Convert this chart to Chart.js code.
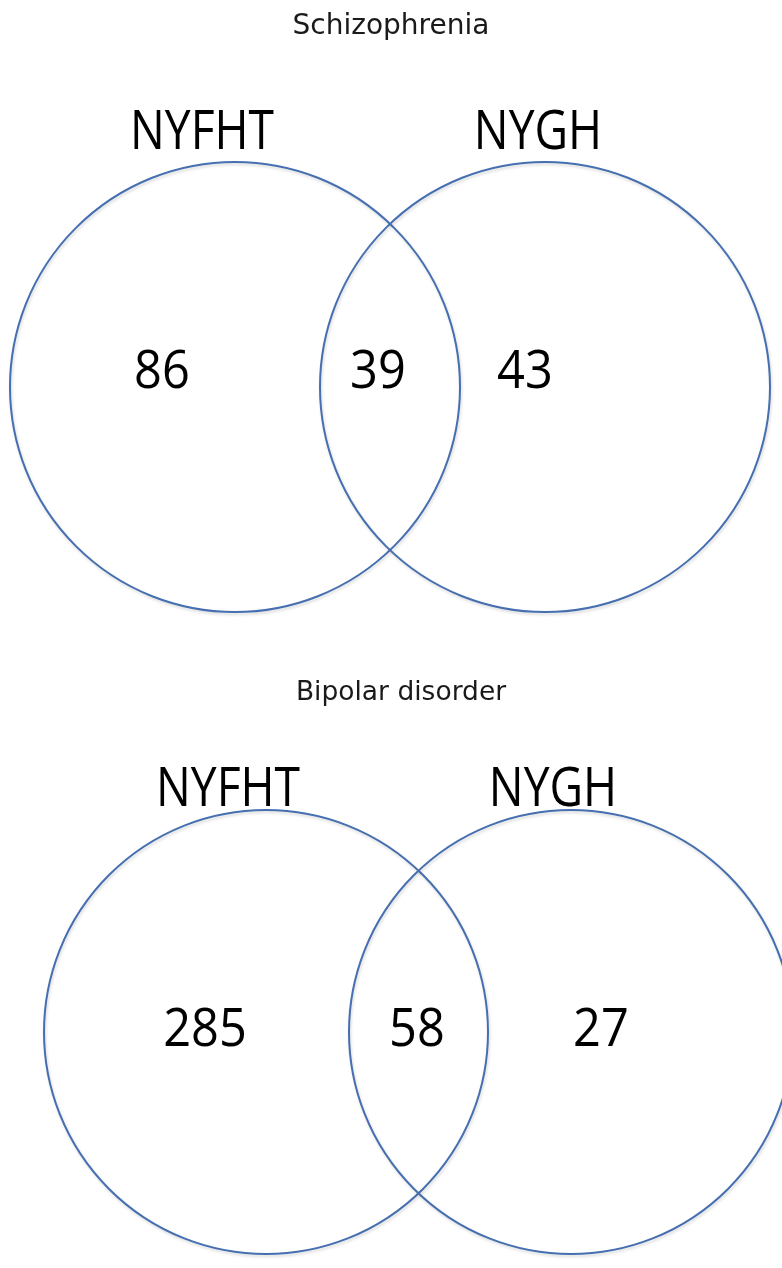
<!DOCTYPE html>
<html>
<head>
<meta charset="utf-8">
<script src="https://cdn.jsdelivr.net/npm/chart.js@4"></script>
<style>
html,body{margin:0;padding:0;background:#fff;}
#wrap{width:782px;height:1268px;}
</style>
</head>
<body>
<div id="wrap"><canvas id="c" width="782" height="1268"></canvas></div>
<script>
// ---- data ----
const panelTitles = ['Schizophrenia', 'Bipolar disorder'];
const setNames = ['NYFHT', 'NYGH'];
const regionNames = ['NYFHT only', 'Both', 'NYGH only'];
const schizophreniaCounts = [86, 39, 43];
const bipolarCounts = [285, 58, 27];

// ---- layout (canvas units) ----
const panels = [
  {counts: schizophreniaCounts, title: panelTitles[0], titleX: 391, titleY: 34, titleSize: 28,
   cy: 387, cxL: 235, cxR: 545, r: 225, labelY: 149, labelX: [202, 538],
   countY: 373, countX: [162, 378, 525]},
  {counts: bipolarCounts, title: panelTitles[1], titleX: 401, titleY: 700, titleSize: 26.5,
   cy: 1032, cxL: 266, cxR: 571, r: 222, labelY: 806, labelX: [228, 553],
   countY: 1031, countX: [205, 417, 601]}
];

const circleColor = '#456fb0';

const datasets = [];
panels.forEach((p, i) => {
  const radiusFn = (ctx) => {
    const xs = ctx.chart.scales.x;
    return Math.abs(xs.getPixelForValue(p.r) - xs.getPixelForValue(0));
  };
  datasets.push({
    type: 'scatter',
    label: p.title + ' circles',
    data: [{x: p.cxL, y: p.cy}, {x: p.cxR, y: p.cy}],
    pointRadius: radiusFn,
    pointHoverRadius: radiusFn,
    backgroundColor: 'rgba(0,0,0,0)',
    borderColor: circleColor,
    borderWidth: 2,
    isCircle: true
  });
  datasets.push({
    type: 'scatter',
    label: p.title + ' counts',
    data: p.countX.map((x, k) => ({x: x, y: p.countY, v: p.counts[k], name: regionNames[k]})),
    pointRadius: 0,
    pointHoverRadius: 0,
    isCount: true
  });
});

const textPlugin = {
  id: 'vennText',
  beforeDatasetDraw(chart, args) {
    const ds = chart.data.datasets[args.index];
    if (ds.isCircle) {
      const ctx = chart.ctx;
      ctx.save();
      ctx.shadowColor = 'rgba(0,0,0,0.16)';
      ctx.shadowBlur = 3;
      ctx.shadowOffsetX = 1;
      ctx.shadowOffsetY = 2;
    }
  },
  afterDatasetDraw(chart, args) {
    const ds = chart.data.datasets[args.index];
    if (ds.isCircle) chart.ctx.restore();
  },
  afterDatasetsDraw(chart) {
    const ctx = chart.ctx;
    const xs = chart.scales.x, ys = chart.scales.y;
    chart.data.datasets.forEach((ds, i) => {
      if (!ds.isCount) return;
      const meta = chart.getDatasetMeta(i);
      meta.data.forEach((el, k) => {
        ctx.save();
        ctx.fillStyle = '#000';
        ctx.font = '53px "Open Sans"';
        ctx.textAlign = 'center';
        ctx.textBaseline = 'middle';
        ctx.translate(el.x, el.y);
        ctx.scale(0.92, 1);
        ctx.fillText(String(ds.data[k].v), 0, 0);
        ctx.restore();
      });
    });
    panels.forEach((p) => {
      ctx.save();
      ctx.fillStyle = '#1a1a1a';
      ctx.font = p.titleSize + 'px "DejaVu Sans"';
      ctx.textAlign = 'center';
      ctx.textBaseline = 'alphabetic';
      ctx.fillText(p.title, xs.getPixelForValue(p.titleX), ys.getPixelForValue(p.titleY));
      ctx.restore();
      setNames.forEach((n, k) => {
        ctx.save();
        ctx.fillStyle = '#000';
        ctx.font = '55px "Open Sans"';
        ctx.textAlign = 'center';
        ctx.textBaseline = 'alphabetic';
        ctx.translate(xs.getPixelForValue(p.labelX[k]), ys.getPixelForValue(p.labelY));
        ctx.scale(0.84, 1);
        ctx.fillText(n, 0, 0);
        ctx.restore();
      });
    });
  }
};

new Chart(document.getElementById('c'), {
  type: 'scatter',
  data: {datasets: datasets},
  options: {
    responsive: false,
    animation: false,
    events: [],
    layout: {padding: 0},
    plugins: {legend: {display: false}, tooltip: {enabled: false}, title: {display: false}},
    scales: {
      x: {type: 'linear', min: 0, max: 782, display: false},
      y: {type: 'linear', min: 0, max: 1268, reverse: true, display: false}
    }
  },
  plugins: [textPlugin]
});
</script>
</body>
</html>
